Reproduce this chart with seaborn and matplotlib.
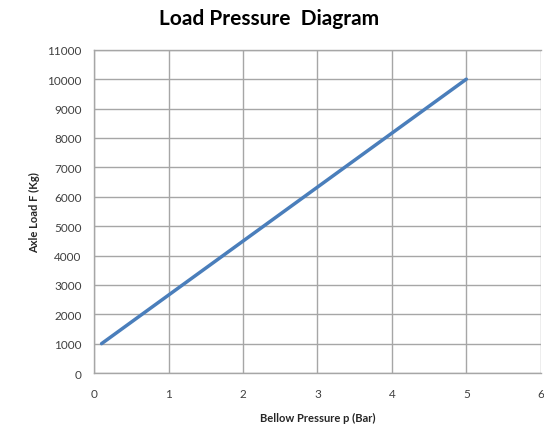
import matplotlib
matplotlib.use("Agg")
import matplotlib.pyplot as plt
import seaborn as sns
import pandas as pd

sns.set_style("whitegrid")
plt.rcParams['font.family'] = ['Lato', 'DejaVu Sans']

pressure = [0.1, 5.0]
axle_load = [1000, 10000]

df = pd.DataFrame({'Bellow Pressure': pressure, 'Axle Load': axle_load})

fig = plt.figure(figsize=(5.44, 4.27), dpi=100)
ax = fig.add_axes([0.173, 0.124, 0.821, 0.757])

sns.lineplot(
    x='Bellow Pressure',
    y='Axle Load',
    data=df,
    color='#4A7EBB',
    linewidth=2.5,
    ax=ax
)

ax.set_xlim(0, 6)
ax.set_ylim(0, 11000)
ax.set_xticks(range(0, 7))
ax.set_yticks(range(0, 11001, 1000))

ax.grid(True, color='#A6A6A6', linewidth=1.0)
for side in ['left', 'bottom', 'top', 'right']:
    ax.spines[side].set_color('#A6A6A6')
    ax.spines[side].set_linewidth(1.0)
ax.spines['right'].set_visible(False)

ax.tick_params(axis='both', which='both', length=5, width=1.0,
               color='#A6A6A6', labelsize=8.5, labelcolor='#404040',
               direction='out', pad=4)
ax.tick_params(axis='x', pad=6)

ax.set_xlabel("Bellow Pressure p (Bar)", fontsize=8, fontweight='bold',
              color='#262626', labelpad=9)
ax.set_ylabel("Axle Load F (Kg)", fontsize=8, fontweight='bold',
              color='#262626', labelpad=5)

fig.suptitle("Load Pressure  Diagram", fontsize=15, fontweight='bold',
             x=0.495, y=0.98, color='#000000')

fig.savefig("out.png", dpi=100)
